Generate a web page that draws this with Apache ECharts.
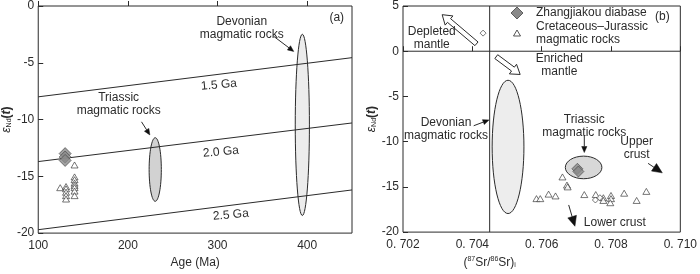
<!DOCTYPE html>
<html>
<head>
<meta charset="utf-8">
<script src="https://cdn.jsdelivr.net/npm/echarts@6/dist/echarts.min.js"></script>
<style>html,body{margin:0;padding:0;background:#fff}#c{width:700px;height:274px}</style>
</head>
<body>
<div id="c"></div>
<script>
// ---------- Panel (a): Age vs eNd(t) ----------
const aXTicks = [100, 200, 300, 400];
const aYTicks = [-20, -15, -10, -5, 0];
const line15 = [[100, -8.0], [450, -4.55]];
const line20 = [[100, -13.7], [450, -10.3]];
const line25 = [[100, -19.7], [450, -16.2]];
const aDiabase = [[130, -13.0], [130, -13.3], [130, -13.6]];
const aCretJur = [
  [124.5, -16.0],
  [131, -15.9], [131, -16.1], [131, -16.4], [131, -16.7], [131, -17.0],
  [140.5, -14.0], [140.5, -15.05], [140.5, -15.3], [140.5, -15.6], [140.5, -15.8],
  [140.5, -16.0], [140.5, -16.3], [140.5, -16.7]
];
// ellipses: [centerX, centerY, width, height]
const aEllipses = [[230.5, -14.4, 13.6, 5.6], [394.6, -10.47, 15.8, 15.96]];
// arrows: [x1, y1, x2, y2]
const aArrows = [[215.2, -10.2, 224.5, -11.35], [362.5, -2.66, 385, -4.0]];
// text annotations: [x, y, text, rotation]
const aTexts = [
  [327, -1.93, 'Devonian\nmagmatic rocks', 0],
  [189.7, -8.67, 'Triassic\nmagmatic rocks', 0],
  [301.5, -6.95, '1.5 Ga', 0.09],
  [303.8, -12.85, '2.0 Ga', 0.09],
  [314.8, -18.4, '2.5 Ga', 0.09],
  [433, -1.03, '(a)', 0]
];

// ---------- Panel (b): (87Sr/86Sr)i vs eNd(t) ----------
const bXTicks = [0.702, 0.704, 0.706, 0.708, 0.710];
const bYTicks = [-20, -15, -10, -5, 0, 5];
const bVLine = [[0.7045, -20], [0.7045, 5]];
const bHLine = [[0.702, 0], [0.710, 0]];
const bDiabase = [[0.70703, -13.0], [0.70706, -13.3]];
const bCretJur = [
  [0.70585, -16.3], [0.70596, -16.3], [0.7062, -15.8], [0.7064, -16.0],
  [0.7066, -13.9], [0.70673, -14.8], [0.70675, -15.0], [0.70723, -15.85],
  [0.70756, -15.85], [0.70778, -16.2], [0.70778, -16.5], [0.7080, -15.95],
  [0.7080, -16.3], [0.70798, -16.75], [0.70838, -15.7], [0.70874, -16.5],
  [0.70902, -15.5]
];
const bOther = [[0.70431, 2.0], [0.70755, -16.45], [0.70768, -16.2]];
const bEllipses = [[0.70503, -10.58, 0.000917, 14.74], [0.70721, -12.85, 0.001055, 2.5]];
const bHollowArrows = [[0.70412, 0.82, 0.70313, 4.04], [0.70469, -0.6, 0.70538, -2.57]];
const bArrows = [
  [0.70404, -8.24, 0.70448, -7.6, 0],
  [0.70723, -9.3, 0.70723, -11.2, 0],
  [0.70907, -12.4, 0.70948, -13.45, 1],
  [0.70678, -17.0, 0.70696, -19.35, 1]
];
const bTexts = [
  [0.70283, 1.45, 'Depleted\nmantle', 0],
  [0.70651, -1.5, 'Enriched\nmantle', 0],
  [0.70324, -8.62, 'Devonian\nmagmatic rocks', 0],
  [0.70723, -8.3, 'Triassic\nmagmatic rocks', 0],
  [0.70874, -10.7, 'Upper\ncrust', 0],
  [0.70811, -18.95, 'Lower crust', 0],
  [0.70948, 3.85, '(b)', 0]
];

const FONT = '"Liberation Sans", Arial, sans-serif';
const TFONT = '12px "Liberation Sans", Arial, sans-serif';
const INK = '#2b2b2b';
const aFills = ['#d2d2d2', '#ececec'];
const bFills = ['#ededed', '#d8d8d8'];

function ellipseSeries(data, fills, idx) {
  return {
    type: 'custom', xAxisIndex: idx, yAxisIndex: idx, z: 1, silent: true,
    data: data,
    renderItem: function (params, api) {
      const c = api.coord([api.value(0), api.value(1)]);
      const s = api.size([api.value(2), api.value(3)]);
      return {type: 'ellipse', shape: {cx: c[0], cy: c[1], rx: s[0] / 2, ry: s[1] / 2},
        style: {fill: fills[params.dataIndex], stroke: INK, lineWidth: 1}};
    }
  };
}
function arrowSeries(data, idx) {
  return {
    type: 'custom', xAxisIndex: idx, yAxisIndex: idx, z: 4, silent: true,
    data: data,
    renderItem: function (params, api) {
      const p1 = api.coord([api.value(0), api.value(1)]);
      const p2 = api.coord([api.value(2), api.value(3)]);
      const big = api.value(4) === 1;
      const dx = p2[0] - p1[0], dy = p2[1] - p1[1];
      const L = Math.sqrt(dx * dx + dy * dy);
      const ux = dx / L, uy = dy / L, nx = -uy, ny = ux;
      const hl = big ? 10 : 6, hw = big ? 4.5 : 2.6;
      const bx = p2[0] - ux * hl, by = p2[1] - uy * hl;
      return {type: 'group', children: [
        {type: 'line', shape: {x1: p1[0], y1: p1[1], x2: bx, y2: by}, style: {stroke: INK, lineWidth: 1}},
        {type: 'polygon', shape: {points: [[p2[0], p2[1]], [bx + nx * hw, by + ny * hw], [bx - nx * hw, by - ny * hw]]},
          style: {fill: '#111', stroke: '#111', lineWidth: 0.5}}
      ]};
    }
  };
}
function hollowArrowSeries(data, idx) {
  return {
    type: 'custom', xAxisIndex: idx, yAxisIndex: idx, z: 4, silent: true,
    data: data,
    renderItem: function (params, api) {
      const p1 = api.coord([api.value(0), api.value(1)]);
      const p2 = api.coord([api.value(2), api.value(3)]);
      const dx = p2[0] - p1[0], dy = p2[1] - p1[1];
      const L = Math.sqrt(dx * dx + dy * dy);
      const ux = dx / L, uy = dy / L, nx = -uy, ny = ux;
      const hl = 9, hw = 6, sw = 2.4;
      const bx = p2[0] - ux * hl, by = p2[1] - uy * hl;
      const pts = [
        [p1[0] + nx * sw, p1[1] + ny * sw],
        [bx + nx * sw, by + ny * sw],
        [bx + nx * hw, by + ny * hw],
        [p2[0], p2[1]],
        [bx - nx * hw, by - ny * hw],
        [bx - nx * sw, by - ny * sw],
        [p1[0] - nx * sw, p1[1] - ny * sw]
      ];
      return {type: 'polygon', shape: {points: pts}, style: {fill: '#fff', stroke: INK, lineWidth: 1}};
    }
  };
}
function textSeries(data, idx) {
  return {
    type: 'custom', xAxisIndex: idx, yAxisIndex: idx, z: 5, silent: true,
    data: data,
    renderItem: function (params, api) {
      const d = data[params.dataIndex];
      const c = api.coord([d[0], d[1]]);
      return {type: 'text', x: c[0], y: c[1], rotation: d[3],
        style: {text: d[2], fill: INK, font: TFONT, fontSize: 12, fontFamily: FONT, lineHeight: 13,
          align: 'center', verticalAlign: 'middle', textAlign: 'center', textVerticalAlign: 'middle'}};
    }
  };
}
function refLine(data, idx) {
  return {type: 'line', xAxisIndex: idx, yAxisIndex: idx, data: data, symbol: 'none', silent: true,
    lineStyle: {color: INK, width: 1}, z: 2, animation: false};
}

const yName = '{e|ε}{s|Nd}{p|(}{t|t}{p|)}';
const yNameStyle = {color: INK, fontFamily: FONT, rich: {
  e: {fontSize: 12, fontStyle: 'italic', fontFamily: FONT, color: INK},
  s: {fontSize: 7, fontFamily: FONT, color: INK, verticalAlign: 'bottom', padding: [5, 0, 0, 0]},
  p: {fontSize: 12, fontWeight: 'bold', fontFamily: FONT, color: INK},
  t: {fontSize: 12, fontWeight: 'bold', fontStyle: 'italic', fontFamily: FONT, color: INK}
}};
const axLabel = {color: INK, fontSize: 12, fontFamily: FONT};

const option = {
  animation: false,
  backgroundColor: '#fff',
  grid: [
    {left: 36, top: 4, width: 316, height: 233, show: true, borderColor: INK, borderWidth: 1, backgroundColor: 'transparent'},
    {left: 403, top: 4, width: 291, height: 233, show: true, borderColor: INK, borderWidth: 1, backgroundColor: 'transparent'}
  ],
  xAxis: [
    {type: 'value', gridIndex: 0, min: 100, max: 450, interval: 100,
      axisLine: {show: false}, splitLine: {show: false},
      axisTick: {show: true, inside: true, length: 5, lineStyle: {color: INK},
        customValues: aXTicks},
      axisLabel: Object.assign({margin: 7, customValues: aXTicks}, axLabel),
      name: 'Age (Ma)', nameLocation: 'middle', nameGap: 20,
      nameTextStyle: {color: INK, fontSize: 12, fontFamily: FONT}},
    {type: 'value', gridIndex: 1, min: 0.702, max: 0.710, interval: 0.002,
      axisLine: {show: false}, splitLine: {show: false},
      axisTick: {show: true, inside: true, length: 5, lineStyle: {color: INK}, customValues: bXTicks},
      axisLabel: Object.assign({margin: 7, customValues: bXTicks,
        formatter: v => v.toFixed(3).replace('0.', '0. ')}, axLabel),
      name: '({sup|87}Sr/{sup|86}Sr){sub|i}', nameLocation: 'middle', nameGap: 22,
      nameTextStyle: {color: INK, fontSize: 12, fontFamily: FONT, padding: [0, 104, 0, 0],
        rich: {sup: {fontSize: 7, fontFamily: FONT, color: INK, verticalAlign: 'top', padding: [0, 0, 6, 0]},
               sub: {fontSize: 7, fontFamily: FONT, color: INK, verticalAlign: 'bottom', padding: [5, 0, 0, 0]}}}}
  ],
  yAxis: [
    {type: 'value', gridIndex: 0, min: -20, max: 0, interval: 5,
      axisLine: {show: false}, splitLine: {show: false},
      axisTick: {show: true, inside: true, length: 5, lineStyle: {color: INK}, customValues: aYTicks},
      axisLabel: Object.assign({margin: 4, customValues: aYTicks}, axLabel),
      name: yName, nameLocation: 'middle', nameGap: 19, nameRotate: 90, nameTextStyle: yNameStyle},
    {type: 'value', gridIndex: 1, min: -20, max: 5, interval: 5,
      axisLine: {show: false}, splitLine: {show: false},
      axisTick: {show: true, inside: true, length: 5, lineStyle: {color: INK}, customValues: bYTicks},
      axisLabel: Object.assign({margin: 4, customValues: bYTicks}, axLabel),
      name: yName, nameLocation: 'middle', nameGap: 22, nameRotate: 90, nameTextStyle: yNameStyle}
  ],
  series: [
    refLine(line15, 0), refLine(line20, 0), refLine(line25, 0),
    ellipseSeries(aEllipses, aFills, 0),
    arrowSeries(aArrows.map(a => a.concat([0])), 0),
    {type: 'scatter', name: 'Cretaceous–Jurassic magmatic rocks', xAxisIndex: 0, yAxisIndex: 0, data: aCretJur,
      symbol: 'triangle', symbolSize: [7, 6], z: 3, silent: true,
      itemStyle: {color: '#fff', borderColor: INK, borderWidth: 0.8}},
    {type: 'scatter', name: 'Zhangjiakou diabase', xAxisIndex: 0, yAxisIndex: 0, data: aDiabase,
      symbol: 'diamond', symbolSize: 12, z: 3, silent: true,
      itemStyle: {color: '#8a8a8a', borderColor: '#444', borderWidth: 0.8}},
    textSeries(aTexts, 0),

    refLine(bVLine, 1), refLine(bHLine, 1),
    ellipseSeries(bEllipses, bFills, 1),
    hollowArrowSeries(bHollowArrows, 1),
    arrowSeries(bArrows, 1),
    {type: 'scatter', name: 'Cretaceous–Jurassic magmatic rocks', xAxisIndex: 1, yAxisIndex: 1, data: bCretJur,
      symbol: 'triangle', symbolSize: [7, 6], z: 3, silent: true,
      itemStyle: {color: '#fff', borderColor: INK, borderWidth: 0.8}},
    {type: 'scatter', name: 'other', xAxisIndex: 1, yAxisIndex: 1, data: bOther,
      symbol: 'diamond', symbolSize: 6, z: 3, silent: true,
      itemStyle: {color: '#fff', borderColor: INK, borderWidth: 0.8}},
    {type: 'scatter', name: 'Zhangjiakou diabase', xAxisIndex: 1, yAxisIndex: 1, data: bDiabase,
      symbol: 'diamond', symbolSize: 11, z: 3, silent: true,
      itemStyle: {color: '#8a8a8a', borderColor: '#444', borderWidth: 0.8}},
    textSeries(bTexts, 1)
  ],
  graphic: [
    {type: 'polygon', shape: {points: [[517, 7], [523, 13], [517, 19], [511, 13]]},
      style: {fill: '#8a8a8a', stroke: '#444', lineWidth: 0.8}},
    {type: 'text', x: 536, y: 13, style: {text: 'Zhangjiakou diabase', fill: INK, font: TFONT, fontSize: 12, fontFamily: FONT,
      verticalAlign: 'middle', textVerticalAlign: 'middle'}},
    {type: 'polygon', shape: {points: [[517, 30], [520.5, 36], [513.5, 36]]},
      style: {fill: '#fff', stroke: INK, lineWidth: 0.8}},
    {type: 'text', x: 536, y: 33.5, style: {text: 'Cretaceous–Jurassic\nmagmatic rocks', fill: INK, font: TFONT, fontSize: 12,
      fontFamily: FONT, lineHeight: 13, verticalAlign: 'middle', textVerticalAlign: 'middle'}}
  ]
};
const chart = echarts.init(document.getElementById('c'), null, {renderer: 'canvas'});
chart.setOption(option);
</script>
</body>
</html>
